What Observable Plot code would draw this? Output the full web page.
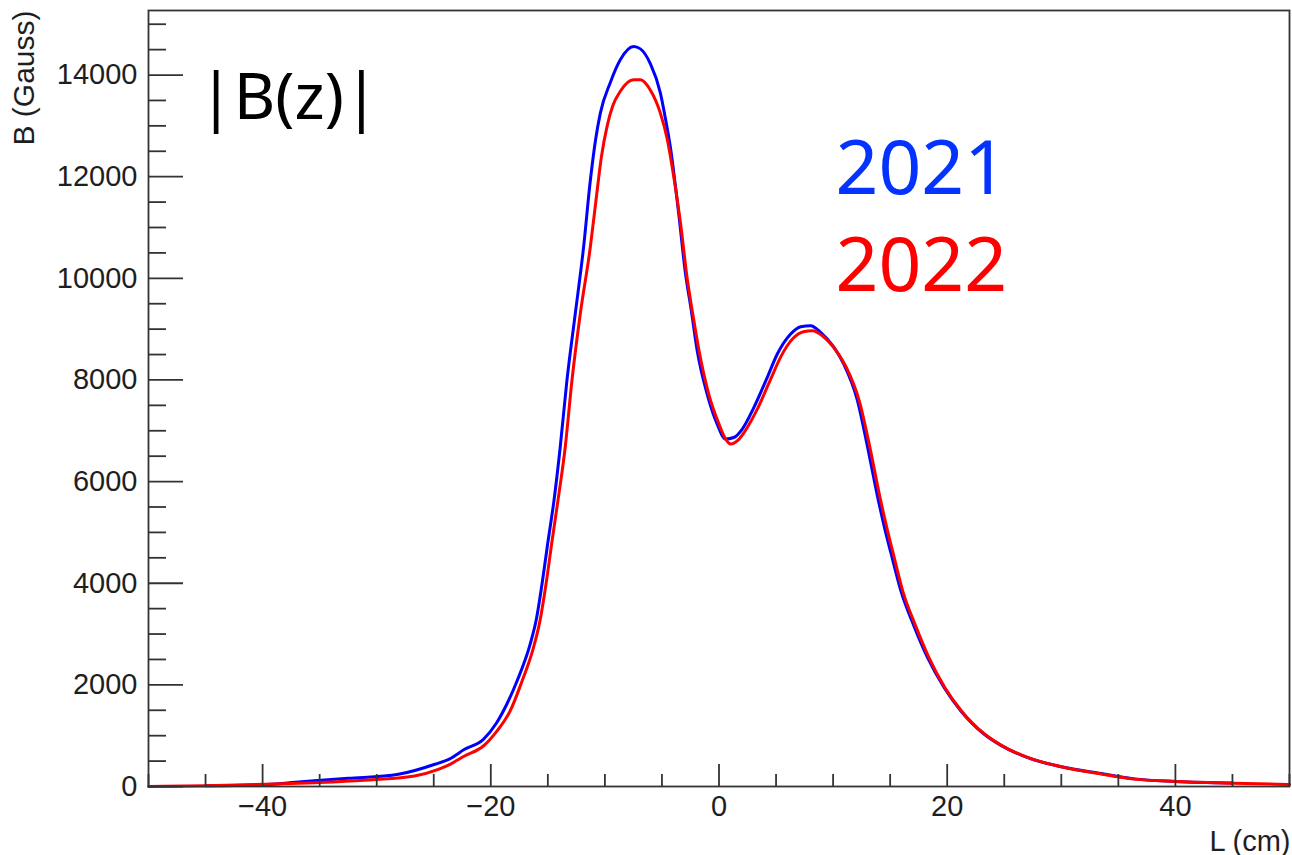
<!DOCTYPE html>
<html>
<head>
<meta charset="utf-8">
<script src="https://cdn.jsdelivr.net/npm/d3@7"></script>
<script src="https://cdn.jsdelivr.net/npm/@observablehq/plot@0.6"></script>
<style>
  html, body { margin: 0; padding: 0; background: #fff; }
  #chart { width: 1292px; height: 855px; }
</style>
</head>
<body>
<div id="chart"></div>
<script>
// Position along axis L (cm) and field magnitude B (Gauss)
const x2021 = [-45, -40, -36.6, -32.5, -28.1, -24.9, -23.6, -22.3, -20.65, -19.5, -18.6, -17.7, -16.55, -16.0, -15.5, -15.0, -14.45, -13.92, -13.33, -12.6, -11.87, -11.28, -10.8, -10.4, -9.53, -8.65, -7.48, -6.89, -6.01, -5.14, -4.7, -4.26, -3.53, -2.94, -2.45, -1.91, -1.04, -0.16, 0.57, 1.3, 2.04, 3.06, 4.23, 5.11, 6.28, 7.16, 8.03, 8.91, 10.08, 10.96, 12.13, 13.0, 13.9, 14.5, 15.06, 15.94, 17.1, 18.28, 19.74, 21.2, 23.25, 24.71, 27.06, 30, 33.5, 36.4, 40, 45];
const b2021 = [15, 35, 95, 160, 240, 437, 545, 732, 929, 1250, 1619, 2077, 2800, 3300, 4000, 4800, 5650, 6671, 7985, 9298, 10610, 11920, 12750, 13250, 13850, 14300, 14560, 14515, 14220, 13650, 13150, 12578, 11267, 10100, 9400, 8575, 7723, 7132, 6837, 6868, 7034, 7460, 8050, 8510, 8904, 9048, 9068, 8936, 8640, 8300, 7600, 6700, 5700, 5100, 4600, 3850, 3150, 2536, 1945, 1487, 1028, 810, 567, 390, 255, 150, 100, 70];

const x2022 = [-50, -45, -39.8, -35.4, -31.1, -26.7, -24.6, -23.57, -22.3, -20.65, -19.5, -18.3, -17.3, -16.26, -15.7, -15.15, -14.65, -14.1, -13.48, -12.89, -12.16, -11.28, -10.8, -10.3, -9.8, -9.3, -8.65, -7.48, -6.89, -6.01, -5.14, -4.55, -4.11, -3.38, -2.79, -2.3, -1.75, -0.9, 0.0, 0.6, 1.01, 1.6, 2.3, 3.3, 4.5, 5.4, 6.5, 7.4, 8.2, 9.1, 10.25, 11.15, 12.33, 13.2, 14.1, 14.7, 15.25, 16.1, 17.25, 18.4, 19.8, 21.25, 23.3, 24.75, 27.1, 30, 33.5, 36.4, 40, 45, 50];
const b2022 = [0, 15, 43, 75, 122, 207, 338, 437, 600, 797, 1080, 1487, 2050, 2733, 3250, 4000, 4800, 5650, 6671, 7985, 9298, 10610, 11500, 12400, 13000, 13400, 13680, 13905, 13905, 13700, 13250, 12750, 12200, 11100, 10000, 9300, 8575, 7723, 7132, 6830, 6738, 6800, 7000, 7400, 8000, 8450, 8820, 8950, 8970, 8860, 8580, 8250, 7560, 6700, 5700, 5100, 4600, 3850, 3150, 2536, 1945, 1487, 1028, 810, 567, 390, 245, 145, 100, 65, 40];

const xMajorTicks = [-40, -20, 0, 20, 40];
const xMinorTicks = [-50, -45, -35, -30, -25, -15, -10, -5, 5, 10, 15, 25, 30, 35, 45, 50];
const yMajorTicks = [0, 2000, 4000, 6000, 8000, 10000, 12000, 14000];
const yMinorTicks = [500, 1000, 1500, 2500, 3000, 3500, 4500, 5000, 5500, 6500, 7000, 7500, 8500, 9000, 9500, 10500, 11000, 11500, 12500, 13000, 13500, 14500, 15000];

const seriesLabels = ["2021", "2022"];
const titleText = "|B(z)|";
const xTitle = "L (cm)";
const yTitle = "B (Gauss)";

const data2021 = x2021.map((x, i) => ({L: x, B: b2021[i]}));
const data2022 = x2022.map((x, i) => ({L: x, B: b2022[i]}));

const fmt = d => d < 0 ? "\u2212" + Math.abs(d) : String(d);
const axisColor = "#1e1e1e";
const rootFont = "'Liberation Sans', Arial, Helvetica, sans-serif";
const annFont = "'Noto Sans', 'Open Sans', sans-serif";

const chart = Plot.plot({
  width: 1292,
  height: 855,
  marginLeft: 148,
  marginRight: 3,
  marginTop: 10,
  marginBottom: 69,
  style: {fontFamily: rootFont, fontSize: "28px", background: "#fff", color: axisColor},
  x: {domain: [-50, 50], label: null},
  y: {domain: [0, 15270], label: null},
  marks: [
    Plot.line(data2021, {x: "L", y: "B", stroke: "#0000ff", strokeWidth: 3, curve: "monotone-x"}),
    Plot.line(data2022, {x: "L", y: "B", stroke: "#ff0000", strokeWidth: 3, curve: "monotone-x"}),
    Plot.frame({stroke: "#333", strokeWidth: 1.8}),
    Plot.axisX(xMajorTicks, {tickSize: -22, tickPadding: 31, tickFormat: fmt, stroke: "#333", strokeWidth: 1.8, label: null, fontSize: 29}),
    Plot.axisX(xMinorTicks, {tickSize: -12, tickPadding: 31, tickFormat: () => "", stroke: "#333", strokeWidth: 1.8, label: null}),
    Plot.axisY(yMajorTicks, {tickSize: -35, tickPadding: 46, tickFormat: fmt, stroke: "#333", strokeWidth: 1.8, label: null, fontSize: 29}),
    Plot.axisY(yMinorTicks, {tickSize: -18, tickPadding: 46, tickFormat: () => "", stroke: "#333", strokeWidth: 1.8, label: null}),
    Plot.text([xTitle], {frameAnchor: "bottom-right", text: d => d, textAnchor: "end", lineAnchor: "bottom", dx: 1, dy: 64, fontSize: 29, fill: axisColor}),
    Plot.text([yTitle], {frameAnchor: "top-left", text: d => d, rotate: -90, textAnchor: "end", lineAnchor: "bottom", dx: -115, dy: 0, fontSize: 30, fill: axisColor}),
    Plot.text([titleText], {frameAnchor: "top-left", text: d => d, textAnchor: "start", lineAnchor: "bottom", dx: 50, dy: 108, fontSize: 64, fontFamily: annFont, fill: "#000"}),
    Plot.text([seriesLabels[0]], {frameAnchor: "top-left", text: d => d, textAnchor: "start", lineAnchor: "bottom", dx: 687, dy: 183, fontSize: 75, fontFamily: annFont, fill: "#0433ff"}),
    Plot.text([seriesLabels[1]], {frameAnchor: "top-left", text: d => d, textAnchor: "start", lineAnchor: "bottom", dx: 687, dy: 280, fontSize: 75, fontFamily: annFont, fill: "#ff0000"})
  ]
});
document.getElementById("chart").appendChild(chart);
</script>
</body>
</html>
